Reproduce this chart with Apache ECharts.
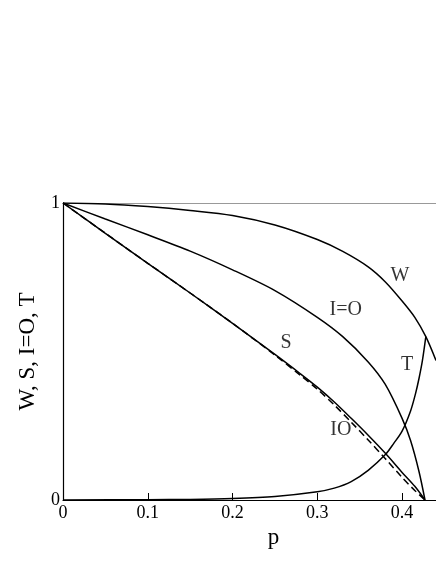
<!DOCTYPE html>
<html>
<head>
  <meta charset="UTF-8" />
  <script src="https://cdn.jsdelivr.net/npm/echarts@6/dist/echarts.min.js"></script>
  <style>
    body { margin: 0; background: #fff; }
    #main { width: 436px; height: 564px; }
  </style>
</head>
<body>
  <div id="main"></div>
  <script>
    // curves
    const wP = [0, 0.05, 0.1, 0.15, 0.2, 0.25, 0.3, 0.33, 0.36, 0.38, 0.4, 0.415, 0.428, 0.44];
    const wV = [1, 0.997, 0.988, 0.975, 0.958, 0.926, 0.877, 0.837, 0.785, 0.735, 0.67, 0.615, 0.55, 0.47];

    const ioEqP = [0, 0.05, 0.1, 0.15, 0.2, 0.25, 0.3, 0.33, 0.36, 0.38, 0.4, 0.41, 0.42, 0.427];
    const ioEqV = [1, 0.946, 0.893, 0.838, 0.775, 0.705, 0.615, 0.55, 0.465, 0.39, 0.275, 0.2, 0.095, 0];

    const sP = [0, 0.05, 0.1, 0.15, 0.2, 0.25, 0.28, 0.3, 0.32, 0.34, 0.36, 0.38, 0.4, 0.415, 0.427];
    const sV = [1, 0.898, 0.797, 0.697, 0.595, 0.49, 0.425, 0.38, 0.33, 0.275, 0.218, 0.158, 0.093, 0.046, 0];

    const ioP = [0, 0.05, 0.1, 0.15, 0.2, 0.25, 0.28, 0.3, 0.32, 0.34, 0.36, 0.38, 0.4, 0.415, 0.427];
    const ioV = [1, 0.898, 0.797, 0.697, 0.595, 0.488, 0.42, 0.373, 0.32, 0.262, 0.202, 0.14, 0.076, 0.032, 0];

    const tP = [0, 0.1, 0.15, 0.2, 0.25, 0.3, 0.32, 0.34, 0.36, 0.38, 0.39, 0.4, 0.41, 0.416, 0.42, 0.424, 0.428];
    const tV = [0, 0.001, 0.002, 0.005, 0.012, 0.028, 0.04, 0.062, 0.1, 0.152, 0.19, 0.232, 0.3, 0.36, 0.41, 0.47, 0.55];

    // curve labels (data coords)
    const labelText = ['W', 'I=O', 'S', 'T', 'IO'];
    const labelP = [0.3975, 0.3336, 0.263, 0.4058, 0.3277];
    const labelV = [0.754, 0.64, 0.529, 0.455, 0.236];

    const xTicks = [0, 0.1, 0.2, 0.3, 0.4];

    const zip = (a, b) => a.map((x, i) => [x, b[i]]);
    const serif = '"Liberation Serif", "DejaVu Serif", serif';

    function curve(name, p, v, dashed) {
      return {
        name: name,
        type: 'line',
        data: zip(p, v),
        smooth: 0.3,
        showSymbol: false,
        lineStyle: { color: '#000', width: 1.5, type: dashed ? [7, 4] : 'solid' },
        z: 3
      };
    }

    const chart = echarts.init(document.getElementById('main'));

    const option = {
      animation: false,
      grid: { left: 63, top: 203, width: 374, height: 297, containLabel: false },
      xAxis: {
        type: 'value',
        min: 0,
        max: 0.44,
        interval: 0.1,
        name: 'p',
        nameLocation: 'middle',
        nameGap: 22,
        nameTextStyle: { fontFamily: serif, fontSize: 23, color: '#000', padding: [0, 0, 0, 48] },
        axisLine: { lineStyle: { color: '#000', width: 1.2 } },
        axisTick: { inside: true, length: 7, lineStyle: { color: '#000' } },
        axisLabel: {
          fontFamily: serif, fontSize: 18, color: '#000', margin: 4,
          showMaxLabel: false,
          formatter: v => xTicks.some(t => Math.abs(t - v) < 1e-9) ? String(v) : ''
        },
        splitLine: { show: false }
      },
      yAxis: {
        type: 'value',
        min: 0,
        max: 1,
        interval: 1,
        name: 'W, S, I=O, T',
        nameLocation: 'middle',
        nameGap: 24,
        nameTextStyle: { fontFamily: serif, fontSize: 23, color: '#000' },
        axisLine: { lineStyle: { color: '#000', width: 1.2 } },
        axisTick: { show: false },
        axisLabel: { fontFamily: serif, fontSize: 18, color: '#000', margin: 3 },
        splitLine: { show: true, lineStyle: { color: '#999', width: 1.2 } }
      },
      series: [
        curve('W', wP, wV),
        curve('I=O', ioEqP, ioEqV),
        curve('S', sP, sV),
        curve('IO', ioP, ioV, true),
        curve('T', tP, tV),
        {
          type: 'scatter',
          symbolSize: 0,
          data: labelText.map((t, i) => ({ value: [labelP[i], labelV[i]], name: t })),
          label: {
            show: true,
            position: 'inside',
            formatter: d => d.name,
            fontFamily: serif,
            fontSize: 20,
            color: '#000'
          },
          z: 4
        }
      ]
    };

    chart.setOption(option);
  </script>
</body>
</html>
